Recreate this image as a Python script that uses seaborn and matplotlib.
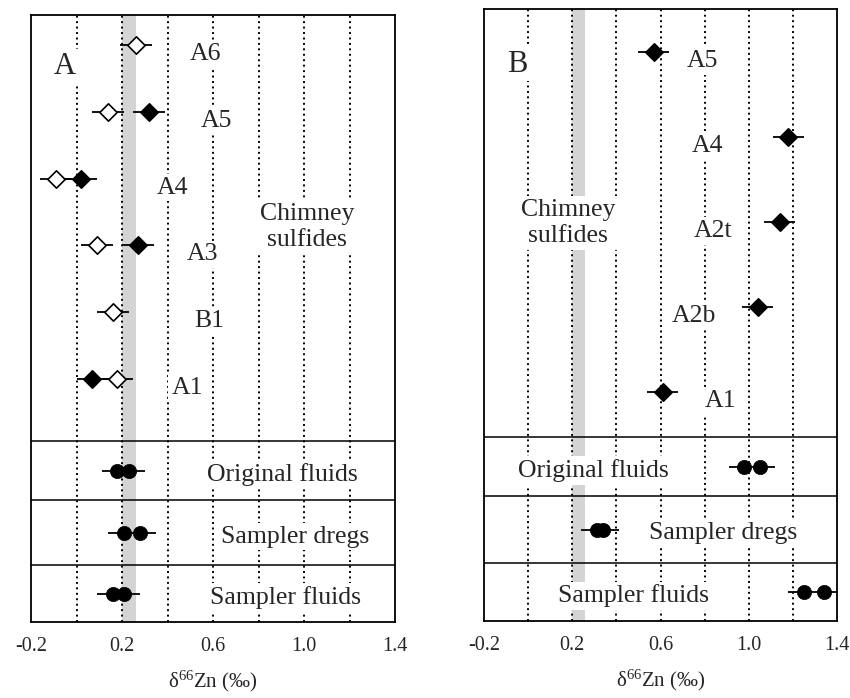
import numpy as np
import pandas as pd
import matplotlib
matplotlib.use("Agg")
import matplotlib.pyplot as plt
import seaborn as sns

# ---------------- data ----------------
a_samples = ["A6", "A5", "A4", "A3", "B1", "A1"]
a_open = [0.26, 0.14, -0.09, 0.09, 0.16, 0.18]
a_filled = [np.nan, 0.32, 0.02, 0.27, np.nan, 0.07]

fluid_groups = ["Original fluids", "Sampler dregs", "Sampler fluids"]
a_fluid_1 = [0.18, 0.21, 0.16]
a_fluid_2 = [0.23, 0.28, 0.21]

b_samples = ["A5", "A4", "A2t", "A2b", "A1"]
b_filled = [0.57, 1.18, 1.14, 1.04, 0.61]
b_fluid_1 = [0.98, 0.31, 1.25]
b_fluid_2 = [1.05, 0.34, 1.34]

err = 0.07
band = (0.20, 0.26)
xticks = [-0.2, 0.2, 0.6, 1.0, 1.4]
xtick_labels = ["-0.2", "0.2", "0.6", "1.0", "1.4"]
grid_x = [0.0, 0.2, 0.4, 0.6, 0.8, 1.0, 1.2]

# ---------------- style ----------------
sns.set_style("white")
plt.rcParams["font.family"] = ["Liberation Serif", "DejaVu Serif"]
plt.rcParams["mathtext.fontset"] = "custom"
plt.rcParams["mathtext.rm"] = "Liberation Serif"
plt.rcParams["mathtext.it"] = "Liberation Serif:italic"

FS = 18.5
fig = plt.figure(figsize=(8.5, 6.98), dpi=100)
W, H = 850, 698


def make_ax(left, top, right, bottom):
    return fig.add_axes([left / W, 1 - bottom / H, (right - left) / W, (bottom - top) / H])


def panel(ax, top, bottom, samples, open_v, filled_v, f1, f2, layout):
    ax.set_xlim(-0.2, 1.4)
    ax.set_ylim(bottom, top)
    # band & grid
    ax.axvspan(band[0], band[1], color="#d4d4d4", lw=0, zorder=1)
    for gx in grid_x:
        ax.axvline(gx, color="black", lw=1.4, ls=(0, (1, 1.8)), zorder=1.5)
    # separators
    seps = layout["seps"]
    for s in seps:
        ax.axhline(s, color="black", lw=1.1, zorder=2)
    # sulfide rows
    rows = [layout["row0"] + i * layout["step"] for i in range(len(samples))]
    # error bars
    for y, o, f in zip(rows, open_v, filled_v):
        for v in (o, f):
            if v is not None and not np.isnan(v):
                ax.hlines(y, v - err, v + err, color="black", lw=1.3, zorder=4)
    df_o = pd.DataFrame({"x": open_v, "y": rows}).dropna()
    df_f = pd.DataFrame({"x": filled_v, "y": rows}).dropna()
    if len(df_o):
        sns.scatterplot(data=df_o, x="x", y="y", marker="D", s=78, color="white",
                        edgecolor="black", linewidth=1.2, ax=ax, zorder=5, legend=False)
    if len(df_f):
        sns.scatterplot(data=df_f, x="x", y="y", marker="D", s=78, color="black",
                        edgecolor="black", linewidth=1.2, ax=ax, zorder=5, legend=False)
    # labels
    bb = dict(facecolor="white", edgecolor="none", pad=2)
    for y, lab, lx in zip(rows, samples, layout["label_x"]):
        ax.text(lx, y + layout["label_dy"], lab, ha="center", va="center", fontsize=FS,
                bbox=bb, zorder=3)
    cx, cy = layout["chimney"]
    ax.text(cx, cy, "Chimney\nsulfides", ha="center", va="center", fontsize=FS,
            linespacing=1.25, bbox=bb, zorder=3)
    px, py = layout["panel"]
    ax.text(px, py, layout["name"], ha="center", va="center", fontsize=22, bbox=bb, zorder=3)
    # fluids
    edges = list(seps) + [bottom]
    fy = [(edges[i] + edges[i + 1]) / 2 for i in range(3)]
    for y, a, b in zip(fy, f1, f2):
        ax.hlines(y, min(a, b) - err, max(a, b) + err, color="black", lw=1.3, zorder=4)
    df_c = pd.DataFrame({"x": f1 + f2, "y": fy + fy})
    sns.scatterplot(data=df_c, x="x", y="y", marker="o", s=105, color="black",
                    edgecolor="black", linewidth=0.5, ax=ax, zorder=5, legend=False)
    for y, lab, lx in zip(fy, fluid_groups, layout["fluid_x"]):
        ax.text(lx, y + 4, lab, ha="center", va="center", fontsize=FS, bbox=bb, zorder=3)
    # axes
    ax.set_xticks(xticks)
    ax.set_xticklabels(xtick_labels)
    ax.set_yticks([])
    ax.tick_params(axis="x", length=0, pad=11, labelsize=14.5)
    ax.set_xlabel("δ$^{66}$Zn (‰)", fontsize=15, labelpad=9)
    ax.set_ylabel("")
    for sp in ax.spines.values():
        sp.set_color("black")
        sp.set_linewidth(1.3)
        sp.set_zorder(6)


axA = make_ax(31, 15, 395, 622)
panel(axA, 15, 622, a_samples, a_open, a_filled, a_fluid_1, a_fluid_2,
      dict(seps=[441, 500, 565], row0=45, step=66.8,
           label_x=[0.565, 0.613, 0.424, 0.556, 0.582, 0.486], label_dy=9,
           chimney=(1.013, 227), panel=(-0.05, 66), name="A",
           fluid_x=[0.903, 0.96, 0.92]))

axB = make_ax(484, 9, 837, 621)
panel(axB, 9, 621, b_samples, [np.nan] * len(b_samples), b_filled, b_fluid_1, b_fluid_2,
      dict(seps=[437, 496, 563], row0=52, step=85,
           label_x=[0.79, 0.814, 0.84, 0.75, 0.873], label_dy=9,
           chimney=(0.18, 223), panel=(-0.05, 64), name="B",
           fluid_x=[0.295, 0.882, 0.477]))

fig.savefig("out.png", dpi=100)
